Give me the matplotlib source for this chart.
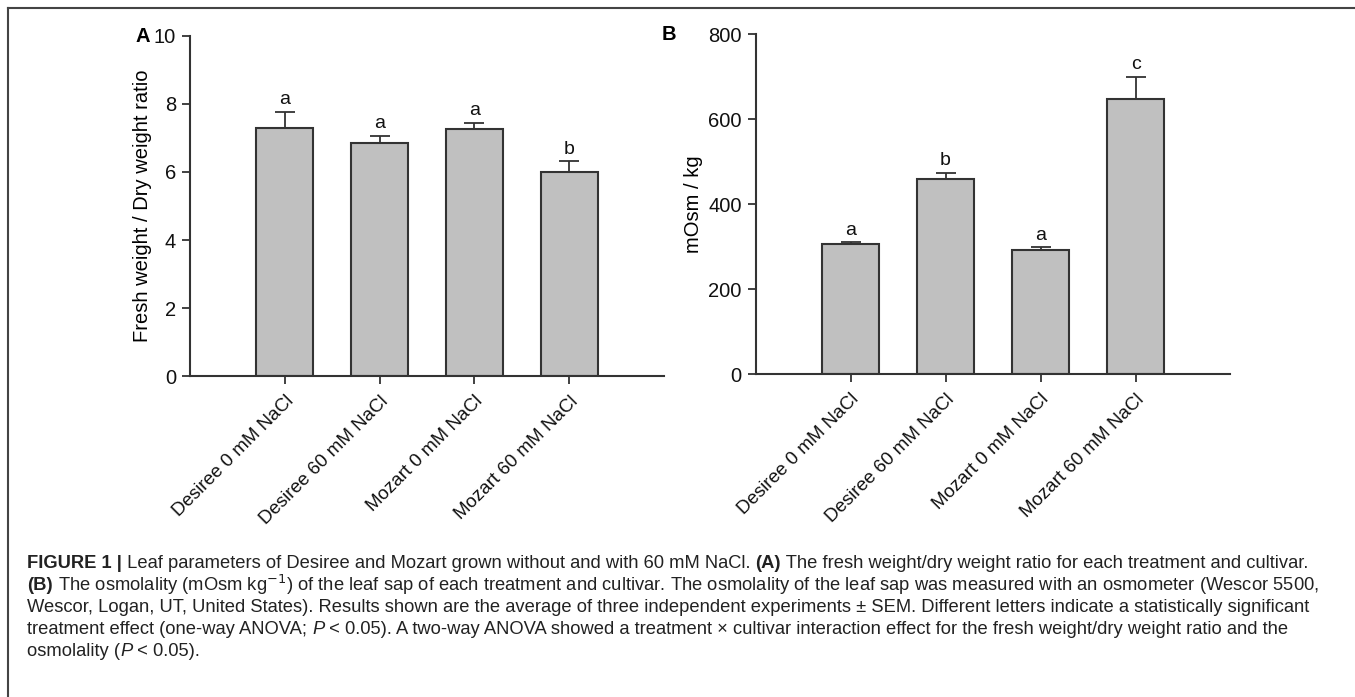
import numpy as np
import matplotlib
matplotlib.use("Agg")
import matplotlib.pyplot as plt
from matplotlib.lines import Line2D

plt.rcParams["font.family"] = ["Liberation Sans", "DejaVu Sans"]

treatments = ["Desiree 0 mM NaCl", "Desiree 60 mM NaCl",
              "Mozart 0 mM NaCl", "Mozart 60 mM NaCl"]

# fresh / dry weight ratio, mean and SEM
fw_dw_mean = [7.29, 6.86, 7.27, 5.99]
fw_dw_sem = [0.48, 0.21, 0.18, 0.33]
fw_dw_letters = ["a", "a", "a", "b"]

# osmolality, mOsm/kg
osmo_mean = [305, 460, 292, 647]
osmo_sem = [5, 14, 6, 53]
osmo_letters = ["a", "b", "a", "c"]

BAR = "#c0c0c0"
EDGE = "#333333"
AX = "#333333"

fig = plt.figure(figsize=(13.55, 6.97), dpi=100)

ax_a = fig.add_axes([0.1402, 0.4605, 0.3498, 0.4879])
ax_b = fig.add_axes([0.5577, 0.4634, 0.3504, 0.4878])


def draw_panel(ax, means, sems, letters, ylim, yticks, ylabel, pad, lpad):
    x = np.arange(len(means))
    ax.bar(x, means, width=0.6, color=BAR, edgecolor=EDGE, linewidth=1.5,
           zorder=2)
    ax.errorbar(x, means, yerr=[np.zeros(len(sems)), sems], fmt="none",
                ecolor=EDGE, elinewidth=1.3, capsize=7.2, capthick=1.3,
                zorder=1)
    for xi, m, s, lab in zip(x, means, sems, letters):
        ax.text(xi, m + s + pad, lab, ha="center", va="bottom", fontsize=14,
                color="#111111")
    ax.set_xlim(-1, 4)
    ax.set_ylim(*ylim)
    ax.set_yticks(yticks)
    ax.set_xticks(x)
    ax.set_xticklabels(treatments, rotation=45, ha="right",
                       rotation_mode="anchor", fontsize=13.5)
    ax.set_ylabel(ylabel, fontsize=14.5, labelpad=lpad)
    for side in ("top", "right"):
        ax.spines[side].set_visible(False)
    for side in ("left", "bottom"):
        ax.spines[side].set_color(AX)
        ax.spines[side].set_linewidth(1.5)
    ax.tick_params(axis="both", direction="out", length=6, width=1.3,
                   color=AX, labelcolor="#111111", pad=4)
    ax.tick_params(axis="y", labelsize=14.5)
    ax.tick_params(axis="x", pad=6)


draw_panel(ax_a, fw_dw_mean, fw_dw_sem, fw_dw_letters, (0, 10),
           [0, 2, 4, 6, 8, 10], "Fresh weight / Dry weight ratio", 0.1, 1)
draw_panel(ax_b, osmo_mean, osmo_sem, osmo_letters, (0, 800),
           [0, 200, 400, 600, 800], "mOsm / kg", 8, 4)

fig.text(143 / 1355, 1 - 36 / 697, "A", fontsize=14.5, fontweight="bold",
         ha="center", va="center")
fig.text(669 / 1355, 1 - 34 / 697, "B", fontsize=14.5, fontweight="bold",
         ha="center", va="center")

# frame around the figure area
fig.add_artist(Line2D([8 / 1355, 1.0], [1 - 8 / 697, 1 - 8 / 697],
                      transform=fig.transFigure, color="#444444", lw=1.5))
fig.add_artist(Line2D([8 / 1355, 8 / 1355], [0.0, 1 - 8 / 697],
                      transform=fig.transFigure, color="#444444", lw=1.5))

# caption, built from styled runs
caption = [
    [("FIGURE 1 |", "bold"),
     (" Leaf parameters of Desiree and Mozart grown without and with 60 mM NaCl. ", "normal"),
     ("(A)", "bold"),
     (" The fresh weight/dry weight ratio for each treatment and cultivar.", "normal")],
    [("(B)", "bold"),
     (" The osmolality (mOsm kg$^{-1}$) of the leaf sap of each treatment and cultivar. "
      "The osmolality of the leaf sap was measured with an osmometer (Wescor 5500,", "normal")],
    [("Wescor, Logan, UT, United States). Results shown are the average of three independent "
      "experiments \u00b1 SEM. Different letters indicate a statistically significant", "normal")],
    [("treatment effect (one-way ANOVA; ", "normal"), ("P", "italic"),
     (" < 0.05). A two-way ANOVA showed a treatment \u00d7 cultivar interaction effect for "
      "the fresh weight/dry weight ratio and the", "normal")],
    [("osmolality (", "normal"), ("P", "italic"), (" < 0.05).", "normal")],
]

cap_family = ["Liberation Sans", "DejaVu Sans"]
cap_size = 13.2
renderer = fig.canvas.get_renderer()


def style_kw(style):
    kw = dict(fontsize=cap_size, family=cap_family)
    if style == "bold":
        kw["fontweight"] = "bold"
    if style == "italic":
        kw["fontstyle"] = "italic"
    return kw


def text_width(s, style):
    kw = style_kw(style)
    t = fig.text(0, 0, s + "|", **kw)
    w = t.get_window_extent(renderer).width
    t.remove()
    t = fig.text(0, 0, "|", **kw)
    w -= t.get_window_extent(renderer).width
    t.remove()
    return w


line_y = [563, 585, 607, 629, 651]
for runs, yy in zip(caption, line_y):
    xpix = 27
    for s, style in runs:
        fig.text(xpix / 1355, 1 - yy / 697, s, color="#222222",
                 va="center", ha="left", **style_kw(style))
        xpix += text_width(s, style)

fig.savefig("out.png", dpi=100, facecolor="white")
